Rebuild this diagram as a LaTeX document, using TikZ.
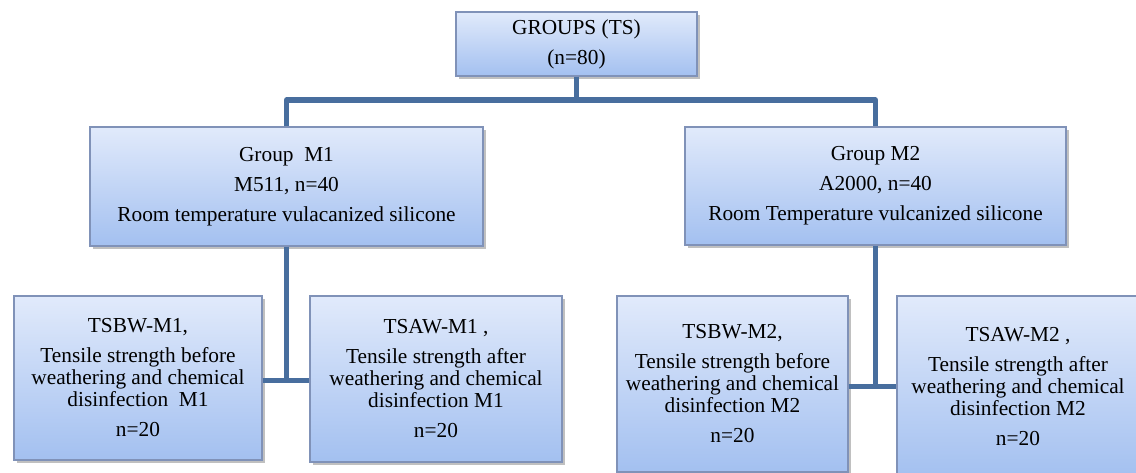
\documentclass[tikz,border=0pt]{standalone}
\usepackage{fontspec}
\setmainfont{Liberation Serif}
\usepackage{xcolor}
\usetikzlibrary{shadows}
\definecolor{boxtop}{RGB}{225,234,251}
\definecolor{boxbottom}{RGB}{163,192,240}
\definecolor{boxline}{RGB}{128,146,184}
\definecolor{linkblue}{RGB}{72,110,158}
\tikzset{
  base/.style={align=center, text=black, inner sep=0pt},
  group/.style={base, rectangle, draw=boxline, line width=0.8pt, top color=boxtop, bottom color=boxbottom, drop shadow={shadow xshift=2pt, shadow yshift=-2pt, opacity=0.45, fill=black!55}},
  upper/.style={group, font=\fontsize{16}{22.5}\selectfont},
  lower/.style={group, font=\fontsize{16}{16.5}\selectfont},
  link/.style={draw=linkblue, line width=3.8pt, line join=round}
}

\begin{document}
\begin{tikzpicture}[x=0.75pt, y=-0.75pt]
  \useasboundingbox (0,0) rectangle (1136,473);
  \clip (0,0) rectangle (1136,473);

  % Top: all samples
  \node[upper, minimum width=180.75pt, minimum height=48pt] (groups) at (576.5,44) {GROUPS (TS)\\(n=80)};
  \coordinate (bus) at (576.5,100);

  % Middle Row: materials
  \node[upper, minimum width=294.75pt, minimum height=89.25pt] (m1) at (286.5,186.5) {Group~ M1\\M511, n=40\\Room temperature vulacanized silicone};
  \node[upper, minimum width=285.75pt, minimum height=88.5pt] (m2) at (875.5,186) {Group M2\\A2000, n=40\\Room Temperature vulcanized silicone};

  % Bottom Row: tests
  \node[lower, minimum width=186pt, minimum height=123pt] (tsbw1) at (138,378) {TSBW-M1,\\[6pt]Tensile strength before\\weathering and chemical\\disinfection~ M1\\[6pt]n=20};
  \node[lower, minimum width=189pt, minimum height=124.5pt] (tsaw1) at (436,379) {TSAW-M1 ,\\[6pt]Tensile strength after\\weathering and chemical\\disinfection M1\\[6pt]n=20};
  \node[lower, minimum width=173.25pt, minimum height=132pt] (tsbw2) at (732.5,384) {TSBW-M2,\\[6pt]Tensile strength before\\weathering and chemical\\disinfection M2\\[6pt]n=20};
  \node[lower, minimum width=181.5pt, minimum height=136.5pt] (tsaw2) at (1018,387) {TSAW-M2 ,\\[6pt]Tensile strength after\\weathering and chemical\\disinfection M2\\[6pt]n=20};

  % Edges
  \draw[link] (groups.south) -- (bus);
  \draw[link] (m1.north) |- (bus) -| (m2.north);

  \draw[link] (m1.south) -- ++(0,134) coordinate (j1);
  \draw[link] (tsbw1.east |- j1) -- (tsaw1.west |- j1);

  \draw[link] (m2.south) -- ++(0,141) coordinate (j2);
  \draw[link] (tsbw2.east |- j2) -- (tsaw2.west |- j2);

\end{tikzpicture}
\end{document}
